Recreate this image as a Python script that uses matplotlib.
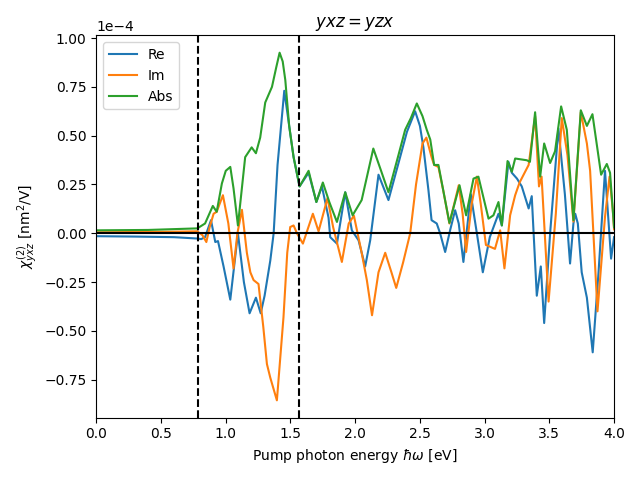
import numpy as np
import matplotlib
matplotlib.use("Agg")
import matplotlib.pyplot as plt

# ==========================================
# DATA (values in units of 1e-4 nm^2/V)
# ==========================================

re_x = [0.0, 0.3, 0.6, 0.78, 0.81, 0.84, 0.886, 0.919, 0.94, 0.983, 1.035,
        1.094, 1.14, 1.184, 1.233, 1.27, 1.30, 1.344, 1.37, 1.40, 1.452,
        1.49, 1.524, 1.57, 1.64, 1.70, 1.743, 1.794, 1.807, 1.859, 1.923,
        1.974, 2.026, 2.077, 2.116, 2.18, 2.257, 2.347, 2.40, 2.463, 2.50,
        2.527, 2.566, 2.59, 2.63, 2.656, 2.695, 2.735, 2.772, 2.80, 2.836,
        2.893, 2.94, 2.986, 3.04, 3.107, 3.133, 3.184, 3.21, 3.25, 3.287,
        3.34, 3.364, 3.403, 3.434, 3.46, 3.506, 3.57, 3.62, 3.66, 3.686,
        3.70, 3.72, 3.75, 3.79, 3.835, 3.88, 3.93, 3.977, 4.0]
re_y = [-0.015, -0.017, -0.02, -0.027, -0.03, -0.02, 0.067, -0.045, -0.04,
        -0.17, -0.34, 0.0, -0.25, -0.41, -0.33, -0.41, -0.32, -0.14, 0.0,
        0.35, 0.73, 0.55, 0.39, 0.24, 0.31, 0.16, 0.24, 0.08, -0.02, -0.053,
        0.21, 0.015, -0.036, -0.17, -0.036, 0.30, 0.17, 0.39, 0.52, 0.625,
        0.55, 0.44, 0.22, 0.067, 0.05, 0.0, -0.096, 0.02, 0.118, 0.05,
        -0.147, 0.2, 0.0, -0.2, -0.02, 0.10, 0.04, 0.366, 0.31, 0.28, 0.24,
        0.127, 0.19, -0.32, -0.17, -0.46, 0.0, 0.537, 0.2, -0.155, 0.05,
        0.1, 0.05, -0.2, -0.33, -0.61, -0.2, 0.32, -0.13, -0.02]

im_x = [0.0, 0.6, 0.78, 0.82, 0.85, 0.875, 0.906, 0.93, 0.978, 1.02, 1.06,
        1.09, 1.125, 1.163, 1.19, 1.215, 1.253, 1.29, 1.318, 1.344, 1.395,
        1.446, 1.475, 1.498, 1.524, 1.55, 1.596, 1.673, 1.717, 1.786, 1.83,
        1.897, 1.95, 1.99, 2.05, 2.09, 2.13, 2.18, 2.232, 2.28, 2.317, 2.37,
        2.425, 2.47, 2.52, 2.55, 2.59, 2.61, 2.643, 2.68, 2.728, 2.80, 2.83,
        2.857, 2.90, 2.94, 2.97, 3.01, 3.08, 3.12, 3.153, 3.197, 3.236, 3.27,
        3.34, 3.39, 3.42, 3.44, 3.494, 3.55, 3.596, 3.64, 3.686, 3.743, 3.79,
        3.815, 3.872, 3.93, 3.965, 3.99, 4.0]
im_y = [0.005, 0.008, 0.01, -0.01, -0.045, 0.03, 0.10, 0.11, 0.195, 0.05,
        -0.18, 0.0, 0.12, -0.10, -0.2, -0.24, -0.26, -0.48, -0.67, -0.74,
        -0.856, -0.43, -0.1, 0.032, 0.04, 0.0, -0.053, 0.10, 0.01, 0.18,
        0.03, -0.147, 0.05, 0.09, -0.1, -0.24, -0.42, -0.2, -0.10, -0.2,
        -0.28, -0.15, 0.0, 0.25, 0.46, 0.49, 0.39, 0.35, 0.34, 0.22, 0.05,
        0.246, 0.1, -0.096, 0.15, 0.29, 0.15, -0.06, -0.08, 0.015, -0.18,
        0.092, 0.195, 0.26, 0.35, 0.60, 0.24, 0.29, -0.35, 0.1, 0.59, 0.4,
        0.06, 0.62, 0.46, 0.32, -0.40, 0.084, 0.29, 0.12, 0.02]

abs_x = [0.0, 0.4, 0.78, 0.84, 0.90, 0.93, 0.97, 1.0, 1.035, 1.06, 1.094,
         1.15, 1.20, 1.233, 1.266, 1.305, 1.357, 1.39, 1.416, 1.44, 1.46,
         1.49, 1.524, 1.57, 1.64, 1.70, 1.75, 1.80, 1.859, 1.923, 1.98,
         2.05, 2.14, 2.20, 2.257, 2.334, 2.386, 2.43, 2.476, 2.52, 2.553,
         2.58, 2.61, 2.643, 2.728, 2.806, 2.857, 2.914, 2.952, 3.03, 3.068,
         3.107, 3.133, 3.177, 3.21, 3.236, 3.326, 3.35, 3.39, 3.429, 3.46,
         3.506, 3.544, 3.591, 3.635, 3.686, 3.743, 3.79, 3.833, 3.90, 3.944,
         3.969, 4.0]
abs_y = [0.015, 0.017, 0.025, 0.05, 0.14, 0.11, 0.255, 0.32, 0.34, 0.23,
         0.04, 0.39, 0.44, 0.41, 0.49, 0.67, 0.75, 0.85, 0.925, 0.88, 0.785,
         0.55, 0.39, 0.24, 0.32, 0.16, 0.26, 0.16, 0.058, 0.21, 0.092, 0.17,
         0.434, 0.32, 0.21, 0.40, 0.53, 0.59, 0.665, 0.6, 0.53, 0.48, 0.35,
         0.35, 0.053, 0.246, 0.092, 0.28, 0.29, 0.075, 0.092, 0.16, 0.04,
         0.37, 0.315, 0.383, 0.374, 0.366, 0.62, 0.29, 0.46, 0.36, 0.42,
         0.65, 0.53, 0.067, 0.63, 0.55, 0.61, 0.30, 0.355, 0.31, 0.03]

gap_lines = [0.788, 1.568]
scale = 1e-4

# ==========================================
# PLOT
# ==========================================

fig, ax = plt.subplots(figsize=(6.4, 4.8), dpi=100)

ax.plot(re_x, np.array(re_y) * scale, label="Re")
ax.plot(im_x, np.array(im_y) * scale, label="Im")
ax.plot(abs_x, np.array(abs_y) * scale, label="Abs")

ax.axhline(0, color="black", lw=1.5)
for xv in gap_lines:
    ax.axvline(xv, color="black", ls="--", lw=1.5)

ax.set_xlim(0, 4)
ax.ticklabel_format(axis="y", style="sci", scilimits=(0, 0))
ax.set_title(r"$yxz = yzx$")
ax.set_xlabel(r"Pump photon energy $\hbar\omega$ [eV]")
ax.set_ylabel(r"$\chi^{(2)}_{yxz}$ [nm$^2$/V]")
ax.legend(loc="upper left")

plt.tight_layout()
plt.savefig("out.png")
plt.close()
